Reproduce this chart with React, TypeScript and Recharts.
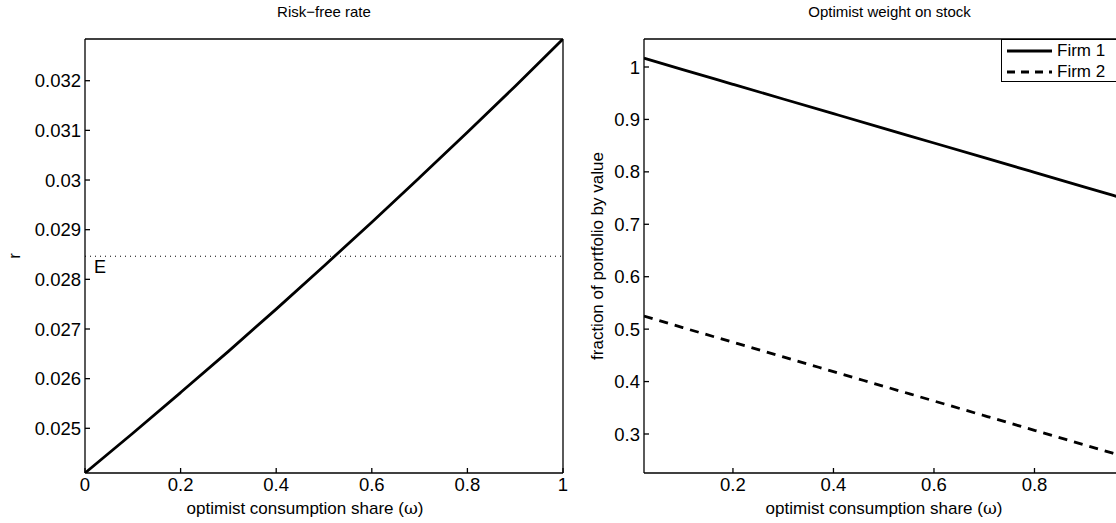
import { LineChart, Line, XAxis, YAxis, ReferenceLine, Label } from 'recharts';

// optimist consumption share grid
const omegaRate = [0, 0.1, 0.2, 0.3, 0.4, 0.5, 0.6, 0.7, 0.8, 0.9, 1];
const riskFree = [0.0241, 0.0249, 0.02572, 0.02655, 0.0274, 0.02827, 0.02915, 0.03005, 0.03096, 0.03189, 0.03284];
const rateE = 0.028465;

const omegaWeight = [0.023, 0.1, 0.2, 0.3, 0.4, 0.5, 0.6, 0.7, 0.8, 0.9, 1];
const firm1 = [1.017, 0.995, 0.967, 0.939, 0.911, 0.883, 0.855, 0.827, 0.799, 0.771, 0.743];
const firm2 = [0.525, 0.503, 0.475, 0.447, 0.419, 0.391, 0.363, 0.335, 0.307, 0.279, 0.251];

const rateTicksX = [0, 0.2, 0.4, 0.6, 0.8, 1];
const rateTicksY = [0.025, 0.026, 0.027, 0.028, 0.029, 0.03, 0.031, 0.032];
const weightTicksX = [0.2, 0.4, 0.6, 0.8];
const weightTicksY = [0.3, 0.4, 0.5, 0.6, 0.7, 0.8, 0.9, 1];

const rateData = omegaRate.map((x, i) => ({ x, r: riskFree[i] }));
const weightData = omegaWeight.map((x, i) => ({ x, f1: firm1[i], f2: firm2[i] }));

const FONT = '"Liberation Sans", Arial, Helvetica, sans-serif';
const tickStyle = { fontSize: 18.5, fill: '#000', fontFamily: FONT };
const axisLine = { stroke: '#000', strokeWidth: 1.3 };

const XLabel = (cx: number) => () => (
  <text x={cx} y={514} textAnchor="middle" fontSize={17} fontFamily={FONT} fill="#000">
    optimist consumption share (<tspan fontFamily="'DejaVu Serif', serif" fontSize={17}>ω</tspan>)
  </text>
);

const Title = (text: string) => ({ viewBox }: any) => (
  <text x={viewBox.x + viewBox.width / 2} y={17} textAnchor="middle" fontSize={15} fontFamily={FONT} fill="#000">
    {text}
  </text>
);

const YLabel = (text: string, x: number) => () => (
  <text x={x} y={256} transform={`rotate(-90, ${x}, 256)`} textAnchor="middle" fontSize={17} fontFamily={FONT} fill="#000">
    {text}
  </text>
);

function RateChart() {
  return (
    <LineChart width={580} height={523} data={rateData} margin={{ top: 38, right: 16, bottom: 30, left: 0 }}>
      <XAxis xAxisId="b" dataKey="x" type="number" domain={[0, 1]} ticks={rateTicksX} tickSize={-5} tickMargin={10}
        tick={tickStyle} axisLine={axisLine} tickLine={axisLine} height={20} allowDataOverflow>
        <Label content={XLabel(305)} />
      </XAxis>
      <XAxis xAxisId="t" orientation="top" dataKey="x" type="number" domain={[0, 1]} ticks={rateTicksX} tickSize={-5}
        tick={false} axisLine={axisLine} tickLine={axisLine} height={1} allowDataOverflow>
        <Label content={Title('Risk\u2212free rate')} />
      </XAxis>
      <YAxis yAxisId="l" type="number" domain={[0.0241, 0.03284]} ticks={rateTicksY} tickSize={-5} tickMargin={9}
        tick={tickStyle} axisLine={axisLine} tickLine={axisLine} width={85} allowDataOverflow>
        <Label content={YLabel('r', 20)} />
      </YAxis>
      <YAxis yAxisId="r" orientation="right" type="number" domain={[0.0241, 0.03284]} ticks={rateTicksY} tickSize={-5}
        tick={false} axisLine={axisLine} tickLine={axisLine} width={1} allowDataOverflow />
      <ReferenceLine xAxisId="b" yAxisId="l" y={rateE} stroke="#000" strokeWidth={1} strokeDasharray="1 4"
        label={({ viewBox }: any) => (
          <text x={viewBox.x + 9} y={viewBox.y + 17} fontSize={18} fontFamily={FONT} fill="#000">E</text>
        )} />
      <Line xAxisId="b" yAxisId="l" dataKey="r" stroke="#000" strokeWidth={2.8} dot={false} type="monotone" isAnimationActive={false} />
    </LineChart>
  );
}

function WeightChart() {
  return (
    <LineChart width={600} height={523} data={weightData} margin={{ top: 38, right: 24, bottom: 30, left: 0 }}>
      <XAxis xAxisId="b" dataKey="x" type="number" domain={[0.023, 1]} ticks={weightTicksX} tickSize={-5} tickMargin={10}
        tick={tickStyle} axisLine={axisLine} tickLine={axisLine} height={20} allowDataOverflow>
        <Label content={XLabel(324)} />
      </XAxis>
      <XAxis xAxisId="t" orientation="top" dataKey="x" type="number" domain={[0.023, 1]} ticks={weightTicksX} tickSize={-5}
        tick={false} axisLine={axisLine} tickLine={axisLine} height={1} allowDataOverflow>
        <Label content={Title('Optimist weight on stock')} />
      </XAxis>
      <YAxis yAxisId="l" type="number" domain={[0.2256, 1.0534]} ticks={weightTicksY} tickSize={-5} tickMargin={9}
        tick={tickStyle} axisLine={axisLine} tickLine={axisLine} width={84} allowDataOverflow>
        <Label content={YLabel('fraction of portfolio by value', 43)} />
      </YAxis>
      <YAxis yAxisId="r" orientation="right" type="number" domain={[0.2256, 1.0534]} ticks={weightTicksY} tickSize={-5}
        tick={false} axisLine={axisLine} tickLine={axisLine} width={1} allowDataOverflow />
      <Line xAxisId="b" yAxisId="l" dataKey="f1" stroke="#000" strokeWidth={2.8} dot={false} type="monotone" isAnimationActive={false} />
      <Line xAxisId="b" yAxisId="l" dataKey="f2" stroke="#000" strokeWidth={2.8} strokeDasharray="9 7" dot={false} type="monotone" isAnimationActive={false} />
    </LineChart>
  );
}

function LegendBox() {
  const row = { display: 'flex', alignItems: 'center', height: 21, gap: 5 };
  return (
    <div style={{ position: 'absolute', left: 1001, top: 39, width: 140, height: 43, border: '1.3px solid #000', background: '#fff', fontFamily: FONT, fontSize: 17, boxSizing: 'border-box', paddingLeft: 5, paddingTop: 0 }}>
      <div style={row}>
        <svg width={45} height={6}><line x1={0} y1={3} x2={45} y2={3} stroke="#000" strokeWidth={2.8} /></svg>
        <span>Firm 1</span>
      </div>
      <div style={row}>
        <svg width={45} height={6}><line x1={0} y1={3} x2={45} y2={3} stroke="#000" strokeWidth={2.8} strokeDasharray="8 6" /></svg>
        <span>Firm 2</span>
      </div>
    </div>
  );
}

export default function App() {
  return (
    <div style={{ position: 'absolute', left: 0, top: 0, width: 1116, height: 523, overflow: 'hidden', background: '#fff' }}>
      <div style={{ position: 'absolute', left: 0, top: 0 }}>
        <RateChart />
      </div>
      <div style={{ position: 'absolute', left: 560, top: 0 }}>
        <WeightChart />
      </div>
      <LegendBox />
    </div>
  );
}
